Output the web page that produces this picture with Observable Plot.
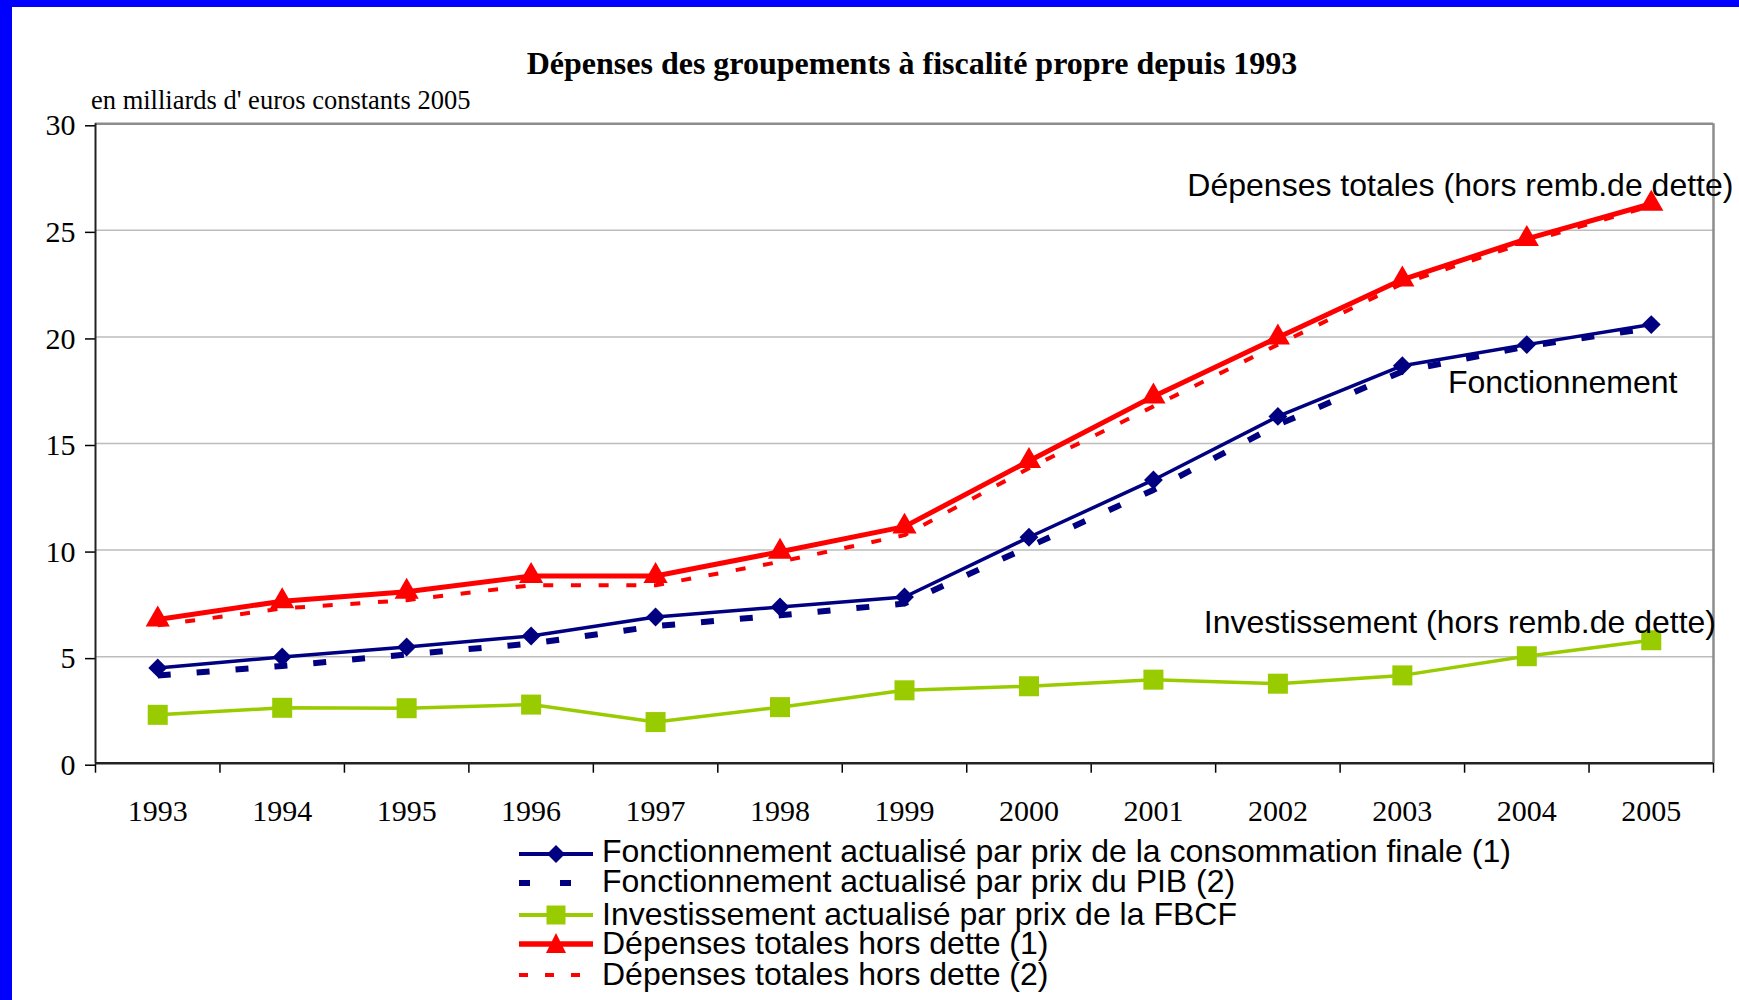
<!DOCTYPE html>
<html>
<head>
<meta charset="utf-8">
<script src="https://cdn.jsdelivr.net/npm/d3@7"></script>
<script src="https://cdn.jsdelivr.net/npm/@observablehq/plot@0.6"></script>
<style>
  html, body { margin: 0; padding: 0; background: #fff; }
  #page { position: relative; width: 1739px; height: 1000px; overflow: hidden; background: #fff; }
  #blueTop { position: absolute; left: 0; top: 0; width: 1739px; height: 7px; background: #0000ff; }
  #blueLeft { position: absolute; left: 0; top: 0; width: 12px; height: 1000px; background: #0000ff; }
  #chart { position: absolute; left: 0; top: 0; }
  #title { position: absolute; left: 912px; top: 47px; transform: translateX(-50%);
           font-family: "Liberation Serif", "Times New Roman", serif; font-weight: bold;
           font-size: 32px; line-height: 32px; white-space: nowrap; color: #000; }
  #subtitle { position: absolute; left: 91px; top: 87px;
              font-family: "Liberation Serif", "Times New Roman", serif;
              font-size: 26.5px; line-height: 26.5px; white-space: nowrap; color: #000; }
  .leg-sym { position: absolute; left: 515px; width: 82px; height: 32px; }
  .leg-txt { position: absolute; left: 602px; font-family: "Liberation Sans", Arial, sans-serif;
             font-size: 32px; line-height: 28px; height: 28px; white-space: nowrap; color: #000; }
</style>
</head>
<body>
<div id="page">
  <div id="blueTop"></div>
  <div id="blueLeft"></div>
  <div id="chart"></div>
  <div id="title"></div>
  <div id="subtitle"></div>
  <div id="legend"></div>
</div>
<script>
// ---------------- DATA ----------------
const years = [1993, 1994, 1995, 1996, 1997, 1998, 1999, 2000, 2001, 2002, 2003, 2004, 2005];
const fonctConso = [4.47, 4.98, 5.45, 5.97, 6.86, 7.33, 7.80, 10.60, 13.29, 16.27, 18.65, 19.64, 20.58];
const fonctPIB   = [4.12, 4.56, 5.10, 5.61, 6.43, 6.94, 7.49, 10.16, 12.82, 15.88, 18.38, 19.56, 20.42];
const investFBCF = [2.27, 2.60, 2.58, 2.75, 1.93, 2.63, 3.42, 3.61, 3.92, 3.73, 4.12, 5.02, 5.77];
const depTot1    = [6.74, 7.60, 8.04, 8.78, 8.78, 9.92, 11.10, 14.18, 17.21, 19.97, 22.69, 24.60, 26.25];
const depTot2    = [6.47, 7.26, 7.65, 8.35, 8.35, 9.45, 10.70, 13.84, 16.74, 19.64, 22.50, 24.45, 26.15];

const yTicks = [0, 5, 10, 15, 20, 25, 30];
const gridTicks = [5, 10, 15, 20, 25];
const xBoundaries = [1992.5, 1993.5, 1994.5, 1995.5, 1996.5, 1997.5, 1998.5, 1999.5, 2000.5, 2001.5, 2002.5, 2003.5, 2004.5, 2005.5];

const titleText = "Dépenses des groupements à fiscalité propre depuis 1993";
const subtitleText = "en milliards d' euros constants 2005";

const legendLabels = [
  "Fonctionnement actualisé par prix de la consommation finale (1)",
  "Fonctionnement actualisé par prix du PIB (2)",
  "Investissement actualisé par prix de la FBCF",
  "Dépenses totales hors dette (1)",
  "Dépenses totales hors dette (2)"
];

const annotationTexts = ["Dépenses totales (hors remb.de dette)", "Fonctionnement", "Investissement (hors remb.de dette)"];
const annotationX = [2005.66, 2005.21, 2005.52];
const annotationY = [27.11, 17.87, 6.60];

// ---------------- STYLES ----------------
const NAVY = "#000080", GREEN = "#99cc00", RED = "#ff0000";
const serif = "Liberation Serif, Times New Roman, serif";
const sans = "Liberation Sans, Arial, sans-serif";

const toRows = (vals) => years.map((yr, i) => ({year: yr, value: vals[i]}));
const sFonct1 = toRows(fonctConso);
const sFonct2 = toRows(fonctPIB);
const sInvest = toRows(investFBCF);
const sDep1 = toRows(depTot1);
const sDep2 = toRows(depTot2);
const annotations = annotationTexts.map((t, i) => ({text: t, x: annotationX[i], y: annotationY[i]}));

const H = 840;
const chart = Plot.plot({
  width: 1739,
  height: H,
  marginLeft: 95,
  marginRight: 26,
  marginTop: 123.3,
  marginBottom: H - 762.7,
  x: {domain: [1992.5, 2005.5]},
  y: {domain: [0, 30]},
  style: {background: "transparent", fontFamily: serif, fontSize: "30px", color: "black", overflow: "visible"},
  marks: [
    Plot.gridY(gridTicks, {stroke: "#bdbdbd", strokeOpacity: 1, strokeWidth: 1.5}),
    Plot.ruleY([30], {stroke: "#8c8c8c", strokeWidth: 2.5}),
    Plot.ruleX([2005.5], {stroke: "#8c8c8c", strokeWidth: 2.5}),
    Plot.axisY(yTicks, {tickSize: 10, tickPadding: 10, fontSize: 30, fontFamily: serif, dy: 2,
                        strokeWidth: 1.5, stroke: "black", fill: "black", label: null, tickFormat: d => String(d)}),
    Plot.axisX(years, {tickSize: 0, tickPadding: 36, fontSize: 30, fontFamily: serif, fill: "black",
                       label: null, tickFormat: d => String(d)}),
    Plot.axisX(xBoundaries, {tickSize: 10, strokeWidth: 1.5, stroke: "black", label: null, tickFormat: () => ""}),
    Plot.ruleY([0], {stroke: "#222", strokeWidth: 2.5}),
    Plot.ruleX([1992.5], {stroke: "#222", strokeWidth: 2}),

    // Fonctionnement (1)
    Plot.line(sFonct1, {x: "year", y: "value", stroke: NAVY, strokeWidth: 3.5}),
    Plot.dot(sFonct1, {x: "year", y: "value", symbol: "diamond2", r: 8.5, fill: NAVY, stroke: "none"}),
    // Fonctionnement (2)
    Plot.line(sFonct2, {x: "year", y: "value", stroke: NAVY, strokeWidth: 6, strokeDasharray: "13,26", strokeLinecap: "butt"}),
    // Investissement
    Plot.line(sInvest, {x: "year", y: "value", stroke: GREEN, strokeWidth: 3.5}),
    Plot.dot(sInvest, {x: "year", y: "value", symbol: "square", r: 11.3, fill: GREEN, stroke: "none"}),
    // Dépenses totales (1)
    Plot.line(sDep1, {x: "year", y: "value", stroke: RED, strokeWidth: 5}),
    Plot.dot(sDep1, {x: "year", y: "value", symbol: "triangle", r: 9, fill: RED, stroke: "none"}),
    // Dépenses totales (2)
    Plot.line(sDep2, {x: "year", y: "value", stroke: RED, strokeWidth: 4, strokeDasharray: "10,17.7", strokeLinecap: "butt"}),

    Plot.text(annotations, {x: "x", y: "y", text: "text", textAnchor: "end", fontFamily: sans, fontSize: 32, fill: "black"})
  ]
});
document.getElementById("chart").appendChild(chart);

document.getElementById("title").textContent = titleText;
document.getElementById("subtitle").textContent = subtitleText;

// ---------------- LEGEND ----------------
const legendSym = [
  {color: NAVY, width: 4, dash: null, marker: "diamond"},
  {color: NAVY, width: 6, dash: "11,30", marker: null},
  {color: GREEN, width: 4, dash: null, marker: "square"},
  {color: RED, width: 5.5, dash: null, marker: "triangle"},
  {color: RED, width: 4, dash: "9,17", marker: null}
];
const symCenters = [854, 883, 915, 944, 975];
const txtCenters = [851, 881, 913.5, 942.5, 974];
const legend = document.getElementById("legend");
legendLabels.forEach((lab, i) => {
  const s = legendSym[i];
  const svgNS = "http://www.w3.org/2000/svg";
  const svg = document.createElementNS(svgNS, "svg");
  svg.setAttribute("class", "leg-sym");
  svg.setAttribute("width", 82);
  svg.setAttribute("height", 32);
  svg.style.top = (symCenters[i] - 16) + "px";
  const line = document.createElementNS(svgNS, "line");
  line.setAttribute("x1", 4); line.setAttribute("x2", 78);
  line.setAttribute("y1", 16); line.setAttribute("y2", 16);
  line.setAttribute("stroke", s.color);
  line.setAttribute("stroke-width", s.width);
  if (s.dash) line.setAttribute("stroke-dasharray", s.dash);
  svg.appendChild(line);
  if (s.marker) {
    const p = document.createElementNS(svgNS, "path");
    let d;
    if (s.marker === "diamond") d = "M41,7 L50,16 L41,25 L32,16 Z";
    else if (s.marker === "square") d = "M31.5,6.5 H50.5 V25.5 H31.5 Z";
    else d = "M41,5 L51,25 L31,25 Z";
    p.setAttribute("d", d);
    p.setAttribute("fill", s.color);
    svg.appendChild(p);
  }
  legend.appendChild(svg);
  const t = document.createElement("div");
  t.className = "leg-txt";
  t.style.top = (txtCenters[i] - 13.6) + "px";
  t.textContent = lab;
  legend.appendChild(t);
});
</script>
</body>
</html>
